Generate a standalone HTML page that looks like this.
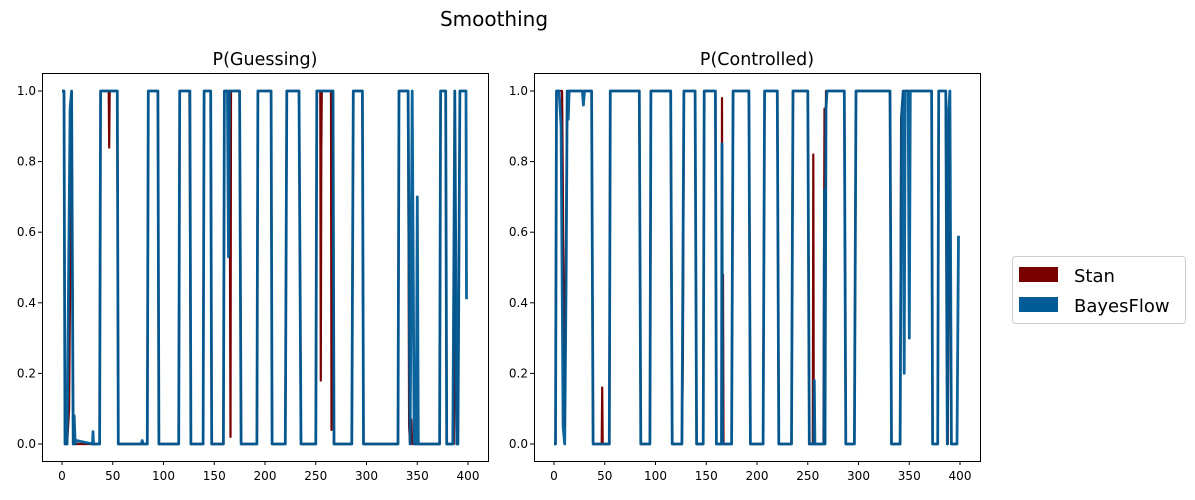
<!DOCTYPE html>
<html><head><meta charset="utf-8"><style>
body{margin:0;background:#fff;font-family:"Liberation Sans","DejaVu Sans",sans-serif;}
svg text{font-family:"DejaVu Sans","Liberation Sans",sans-serif;}
</style></head><body>
<svg id="fig" width="1195" height="495" xmlns="http://www.w3.org/2000/svg">
<text x="494" y="26" font-size="20" text-anchor="middle">Smoothing</text>
<g>
<rect x="1012.5" y="256.5" width="173" height="67" rx="3" fill="#fff" stroke="#ccc"/>
<rect x="1019" y="267" width="39" height="15" fill="#7a0000"/>
<text x="1074" y="282" font-size="18">Stan</text>
<rect x="1019" y="297" width="39" height="15" fill="#005b96"/>
<text x="1074" y="312" font-size="18">BayesFlow</text>
</g>
</svg>
<script>
const xTicks=[0,50,100,150,200,250,300,350,400];
const yTicks=[0.0,0.2,0.4,0.6,0.8,1.0];
const leftBlueX=[0,2,3,5,8,9.5,11,12,13,14,30,30.5,31,37,38,54.5,55.5,78,79,80,84,85,94.5,95.5,115,116,126,127,139,140,146.5,147.5,159,160,163,164,165,175,176.5,192,193,206,207,220,221.5,233.5,235.5,250,251,267,268,285.5,287,296,297,331,332,341,343,345,347,349,350,351,372,373,378,379,385,387,389,390,392,398,398.5];
const leftBlueY=[1,1,0,0,0.95,1,0,0.08,0,0.01,0,0.035,0,0,1,1,0,0,0.01,0,0,1,1,0,0,1,1,0,0,1,1,0,0,1,1,0.53,1,1,0,0,1,1,0,0,1,1,0,0,1,1,0,0,1,1,0,0,1,1,0,1,0,0,0.7,0,0,1,1,0,0,1,0,0,1,1,0.41];
const leftStan=[[0,1],[2,1],[3,0],[5,0],[7,0.1],[9.5,1],[11,0],[37,0],[38,1],[46,1],[46.5,0.84],[47,1],[54.5,1],[55.5,0],[84,0],[85,1],[94.5,1],[95.5,0],[115,0],[116,1],[125.5,1],[126,0.75],[127,0],[139,0],[140,1],[146.5,1],[147.5,0],[159,0],[160,1],[164.5,1],[165,0.87],[165.5,0.52],[166,0.02],[166.5,1],[175,1],[176.5,0],[192,0],[193,1],[206,1],[207,0],[220,0],[221.5,1],[233.5,1],[235.5,0],[250,0],[251,1],[254.5,1],[255,0.18],[255.5,0.83],[256,1],[265,1],[265.5,0.04],[266,0.85],[266.5,1],[267,1],[268,0],[285.5,0],[287,1],[296,1],[297,0],[331,0],[332,1],[341,1],[342,0.05],[343,0],[344,0.07],[345,0],[372,0],[373,1],[378,1],[379,0],[386,0],[387,1],[388,0.15],[389,0],[390,0],[392,1],[398,1]];
const rightBlueX=[0,1.5,2.5,5,7,9,10.5,12,13,14,15,28,29,30,37,38.5,54.5,55.5,84,85.5,94.5,95.5,115,116.5,126,128,139,140.5,147,148,159,160,165,165.5,166,175,176.5,192,193.5,206,207.5,220,221.5,234,235.5,250,251.5,256,256.5,257,266,266.5,267,268,269,286,287.5,296,297.5,331,332.5,341,342.5,344,345,346,349,350,351,372,373,378,379,386,387.5,389,390,391.5,397,398.5];
const rightBlueY=[0,0,1,1,0.9,0.05,0,0.5,1,0.92,1,1,0.96,1,1,0,0,1,1,0,0,1,1,0,0,1,1,0,0,1,1,0,0,0.85,0,0,1,1,0,0,1,1,0,0,1,1,0,0,0.18,0,0,0.72,0,0.95,1,1,0,0,1,1,0,0,0.93,1,0.2,1,1,0.3,1,1,0,0,1,1,0,0.95,1,0,0,0.59];
const rightStan=[[0,0],[1.5,0],[2.5,1],[8,1],[10.5,0.05],[13,1],[37,1],[38.5,0],[47,0],[47.5,0.16],[48,0],[54.5,0],[55.5,1],[84,1],[85.5,0],[94.5,0],[95.5,1],[115,1],[116.5,0],[126,0],[127,0.25],[128,1],[139,1],[140.5,0],[147,0],[148,1],[159,1],[160,0],[165,0],[165.5,0.98],[166,0.14],[166.5,0.48],[167,0],[175,0],[176.5,1],[192,1],[193.5,0],[206,0],[207.5,1],[220,1],[221.5,0],[234,0],[235.5,1],[250,1],[251.5,0],[255,0],[255.5,0.82],[256,0],[265.5,0],[266,0.53],[266.5,0.95],[267,0],[268,1],[286,1],[287.5,0],[296,0],[297.5,1],[331,1],[332.5,0],[341,0],[342,0.92],[344,1],[372,1],[373,0],[378,0],[379,1],[386,1],[387.5,0],[388,0],[389,0.95],[391.5,0],[397,0]];

const svg=document.getElementById('fig');
const NS='http://www.w3.org/2000/svg';
function mk(tag,attrs,parent){const e=document.createElementNS(NS,tag);for(const k in attrs)e.setAttribute(k,attrs[k]);parent.appendChild(e);return e;}
function panel(x0,x1,title,name,bX,bY,stan){
  const y0=73,y1=461;
  const xs=v=>x0+20+(v)*(x1-x0-40)/400;
  const ys=v=>444-(v)*353;
  const g=mk('g',{},svg);
  
  
  const t=mk('text',{x:(x0+x1)/2,y:65,'font-size':17.5,'text-anchor':'middle'},g);t.textContent=title;
  
  
  const ps=(X,Y)=>X.map((v,i)=>(i?'L':'M')+xs(v).toFixed(1)+' '+ys(Y[i]).toFixed(1)).join(' ');
  const s=mk('path',{d:ps(stan.map(p=>p[0]),stan.map(p=>p[1])),fill:'none',stroke:'#7a0000','stroke-width':2.2,'stroke-linejoin':'round'},g);
  
  
  const b=mk('path',{d:ps(bX,bY),fill:'none',stroke:'#005b96','stroke-width':2.8,'stroke-linejoin':'round','stroke-opacity':0.95},g);
  
  
  const fr=mk('rect',{x:x0+0.5,y:y0+0.5,width:x1-x0,height:y1-y0,fill:'none',stroke:'#000','stroke-width':1},g);
  
  
  xTicks.forEach(v=>{const x=xs(v);mk('line',{x1:x,x2:x,y1:y1,y2:y1+4,stroke:'#000'},g);
    const l=mk('text',{x:x,y:y1+19,'font-size':12,'text-anchor':'middle'},g);l.textContent=v;
    
    });
  yTicks.forEach(v=>{const y=ys(v);mk('line',{x1:x0,x2:x0-4,y1:y,y2:y,stroke:'#000'},g);
    const l=mk('text',{x:x0-6,y:y+4,'font-size':12,'text-anchor':'end'},g);l.textContent=v.toFixed(1);
    
    });
}
panel(42,488,'P(Guessing)','guessing-panel',leftBlueX,leftBlueY,leftStan);
panel(534,980,'P(Controlled)','controlled-panel',rightBlueX,rightBlueY,rightStan);
</script>
</body></html>
